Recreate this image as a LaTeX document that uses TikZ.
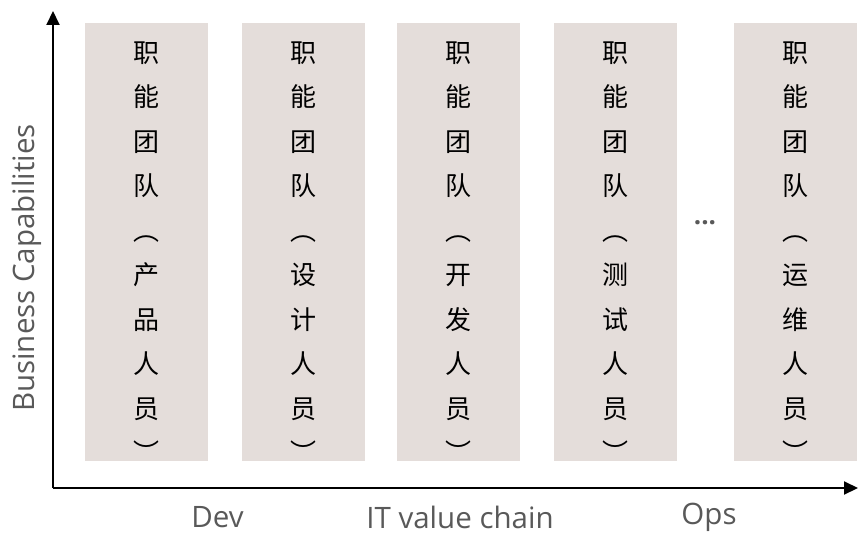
\documentclass[tikz,border=0pt]{standalone}
\usepackage{fontspec}
\usetikzlibrary{arrows.meta}
\setmainfont{Open Sans}
\newfontfamily\cjk{Noto Sans CJK SC}
\definecolor{boxfill}{RGB}{228,221,218}
\definecolor{labelgray}{RGB}{89,89,89}
\newcommand{\teamtext}[2]{%
    职\\能\\团\\队\\︵\\#1\\#2\\人\\员\\︶%
}

\begin{document}
\begin{tikzpicture}[x=1pt,y=1pt,yscale=-1,xscale=1]
                \useasboundingbox (0,0) rectangle (858,534);
                \tikzset{
                    team/.style={fill=boxfill, draw=none, minimum width=123pt, minimum height=438pt, inner sep=0pt},
                    teamlabel/.style={align=center, inner sep=0pt, text=black, font=\cjk\fontsize{26}{44.5}\selectfont},
                    axislabel/.style={text=labelgray, font=\fontsize{29.5}{34}\selectfont, inner sep=0pt},
                    axis/.style={line width=2pt, -{Triangle[length=14pt,width=13pt]}}
                }
                % Axes
                \coordinate (origin) at (53,488);
                \coordinate (yend) at (53,11);
                \coordinate (xend) at (858,488);
                \draw [axis] (origin) -- (yend);
                \draw [axis] (origin) -- (xend);

                % Team boxes
                \node [team] (product) at (146.5,242) {};
                \node [team] (design) at (303,242) {};
                \node [team] (develop) at (458.5,242) {};
                \node [team] (testing) at (615.5,242) {};
                \node [team] (operate) at (795.5,242) {};

                % Text Node
                \node [teamlabel] (productText) at (146.5,252) {\teamtext{产}{品}};
                % Text Node
                \node [teamlabel] (designText) at (303,252) {\teamtext{设}{计}};
                % Text Node
                \node [teamlabel] (developText) at (458.5,252) {\teamtext{开}{发}};
                % Text Node
                \node [teamlabel] (testingText) at (615.5,252) {\teamtext{测}{试}};
                % Text Node
                \node [teamlabel] (operateText) at (795.5,252) {\teamtext{运}{维}};
                % Text Node
                \node [text=labelgray, font=\bfseries\fontsize{26}{30}\selectfont, inner sep=0pt, anchor=base] (dots) at (705,225) {...};

                % Text Node
                \node [axislabel, rotate=90] (capLabel) at (27,268) {Business Capabilities};
                % Text Node
                \node [axislabel] (devLabel) at (217.5,517) {Dev};
                % Text Node
                \node [axislabel] (chainLabel) at (460,517) {IT value chain};
                % Text Node
                \node [axislabel] (opsLabel) at (709,517) {Ops};
\end{tikzpicture}
\end{document}
